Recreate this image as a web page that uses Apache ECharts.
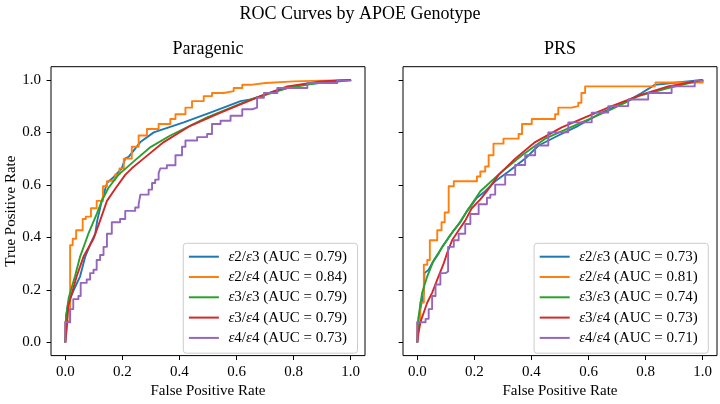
<!DOCTYPE html>
<html><head><meta charset="utf-8">
<script src="https://cdn.jsdelivr.net/npm/echarts@6/dist/echarts.min.js"></script>
<style>html,body{margin:0;padding:0;background:#fff}#c{width:720px;height:404px}</style>
</head><body><div id="c"></div>
<script>
// ---- data ----
const genotypes = ['ε2/ε3', 'ε2/ε4', 'ε3/ε3', 'ε3/ε4', 'ε4/ε4'];
const aucParagenic = [0.79, 0.84, 0.79, 0.79, 0.73];
const aucPRS = [0.73, 0.81, 0.74, 0.73, 0.71];
const panelTitles = ['Paragenic', 'PRS'];
const mainTitle = 'ROC Curves by APOE Genotype';
const xLabel = 'False Positive Rate';
const yLabel = 'True Positive Rate';
const tickValues = [0, 0.2, 0.4, 0.6, 0.8, 1.0];
const tickLabels = ['0.0', '0.2', '0.4', '0.6', '0.8', '1.0'];

// Paragenic panel curves [FPR, TPR]
const paragenicE2E3 = [[0,0],[0.003,0.1],[0.01,0.15],[0.03,0.2],[0.052,0.252],[0.07,0.327],[0.09,0.38],[0.105,0.414],[0.112,0.464],[0.128,0.539],[0.146,0.607],[0.17,0.63],[0.198,0.663],[0.21,0.7],[0.222,0.707],[0.263,0.763],[0.31,0.8],[0.415,0.838],[0.508,0.875],[0.614,0.919],[0.65,0.925],[0.731,0.956],[0.824,0.981],[0.988,0.997],[1,1]];
const paragenicE2E4 = [[0,0],[0,0.08],[0.017,0.37],[0.026,0.395],[0.038,0.427],[0.061,0.47],[0.072,0.479],[0.09,0.511],[0.11,0.539],[0.132,0.595],[0.146,0.614],[0.155,0.62],[0.175,0.64],[0.19,0.663],[0.205,0.7],[0.233,0.745],[0.257,0.788],[0.286,0.813],[0.327,0.832],[0.368,0.851],[0.386,0.869],[0.421,0.894],[0.444,0.919],[0.485,0.938],[0.514,0.95],[0.555,0.957],[0.59,0.969],[0.62,0.981],[0.649,0.988],[0.702,0.994],[0.8,1],[1,1]];
const paragenicE3E3 = [[0,0],[0.003,0.1],[0.012,0.17],[0.034,0.252],[0.052,0.327],[0.081,0.414],[0.11,0.489],[0.128,0.539],[0.151,0.588],[0.186,0.638],[0.251,0.7],[0.3,0.745],[0.368,0.788],[0.497,0.857],[0.649,0.925],[0.778,0.969],[0.918,0.994],[1,1]];
const paragenicE3E4 = [[0,0],[0.005,0.05],[0.011,0.14],[0.04,0.252],[0.064,0.327],[0.099,0.395],[0.122,0.464],[0.146,0.539],[0.175,0.585],[0.21,0.638],[0.233,0.663],[0.274,0.7],[0.345,0.763],[0.438,0.825],[0.544,0.875],[0.684,0.938],[0.778,0.975],[0.895,0.994],[1,1]];
const paragenicE4E4 = [[0,0],[0,0.077],[0.017,0.127],[0.028,0.165],[0.046,0.177],[0.054,0.227],[0.075,0.24],[0.087,0.264],[0.099,0.277],[0.11,0.314],[0.122,0.333],[0.134,0.364],[0.146,0.414],[0.163,0.458],[0.192,0.47],[0.21,0.501],[0.245,0.514],[0.257,0.526],[0.263,0.563],[0.292,0.582],[0.304,0.607],[0.315,0.62],[0.327,0.645],[0.333,0.663],[0.356,0.675],[0.386,0.713],[0.409,0.745],[0.421,0.769],[0.462,0.782],[0.497,0.794],[0.514,0.832],[0.544,0.844],[0.579,0.863],[0.62,0.888],[0.655,0.894],[0.672,0.932],[0.696,0.95],[0.743,0.969],[0.848,0.988],[0.953,0.997],[1,1]];

// PRS panel curves [FPR, TPR]
const prsE2E3 = [[0,0],[0.005,0.1],[0.015,0.15],[0.023,0.189],[0.025,0.264],[0.04,0.277],[0.052,0.302],[0.075,0.339],[0.087,0.364],[0.104,0.389],[0.128,0.427],[0.151,0.458],[0.174,0.501],[0.192,0.526],[0.209,0.551],[0.238,0.576],[0.273,0.614],[0.32,0.651],[0.378,0.7],[0.425,0.75],[0.494,0.788],[0.564,0.825],[0.646,0.875],[0.727,0.913],[0.786,0.95],[0.832,0.981],[0.867,0.985],[1,1]];
const prsE2E4 = [[0,0],[0,0.077],[0.011,0.152],[0.023,0.296],[0.035,0.314],[0.044,0.389],[0.07,0.427],[0.085,0.458],[0.096,0.495],[0.11,0.595],[0.128,0.614],[0.197,0.614],[0.209,0.632],[0.221,0.651],[0.238,0.67],[0.25,0.713],[0.267,0.757],[0.302,0.776],[0.355,0.794],[0.367,0.832],[0.401,0.851],[0.483,0.869],[0.494,0.894],[0.541,0.9],[0.564,0.913],[0.575,0.95],[0.588,0.975],[0.832,0.975],[0.835,0.99],[0.99,0.99],[1,1]];
const prsE3E3 = [[0,0],[0.003,0.08],[0.01,0.14],[0.017,0.189],[0.035,0.252],[0.058,0.314],[0.081,0.352],[0.11,0.401],[0.145,0.451],[0.175,0.501],[0.221,0.576],[0.297,0.651],[0.367,0.713],[0.448,0.776],[0.576,0.838],[0.681,0.888],[0.774,0.938],[0.879,0.969],[1,1]];
const prsE3E4 = [[0,0],[0.005,0.04],[0.011,0.077],[0.035,0.152],[0.052,0.189],[0.07,0.239],[0.093,0.302],[0.104,0.339],[0.122,0.389],[0.145,0.427],[0.168,0.464],[0.19,0.51],[0.221,0.545],[0.244,0.576],[0.285,0.638],[0.343,0.7],[0.413,0.763],[0.506,0.819],[0.588,0.857],[0.681,0.9],[0.786,0.944],[0.879,0.975],[1,1]];
const prsE4E4 = [[0,0],[0,0.077],[0.029,0.09],[0.04,0.127],[0.052,0.177],[0.064,0.221],[0.081,0.264],[0.099,0.27],[0.108,0.364],[0.128,0.389],[0.145,0.414],[0.168,0.451],[0.186,0.489],[0.215,0.526],[0.244,0.551],[0.256,0.563],[0.273,0.601],[0.308,0.638],[0.343,0.676],[0.378,0.713],[0.413,0.75],[0.459,0.8],[0.529,0.838],[0.611,0.875],[0.669,0.9],[0.739,0.925],[0.809,0.95],[0.891,0.975],[0.972,0.997],[1,1]];

// ---- styling ----
const colors = ['#1f77b4', '#ff7f0e', '#2ca02c', '#d62728', '#9467bd'];
const stepped = [false, true, false, false, true];
const FONT = 'Liberation Serif, Times New Roman, serif';

const panels = [
  { curves: [paragenicE2E3, paragenicE2E4, paragenicE3E3, paragenicE3E4, paragenicE4E4], auc: aucParagenic },
  { curves: [prsE2E3, prsE2E4, prsE3E3, prsE3E4, prsE4E4], auc: aucPRS }
];
const grids = [
  { left: 51, top: 66.7, width: 314, height: 294 },
  { left: 403, top: 66.7, width: 314, height: 294 }
];
const legendRight = [362.5, 11.7];

const series = [];
const legends = [];
panels.forEach((p, pi) => {
  const names = genotypes.map((g, i) => g + ' (AUC = ' + p.auc[i].toFixed(2) + ')');
  names.forEach((n, i) => {
    series.push({
      type: 'line', name: n, xAxisIndex: pi, yAxisIndex: pi,
      data: p.curves[i], symbol: 'none', step: stepped[i] ? 'end' : false,
      lineStyle: { color: colors[i], width: 1.9, join: 'round' },
      itemStyle: { color: colors[i] }, color: colors[i],
      z: 2 + i, silent: true
    });
  });
  legends.push({
    orient: 'vertical', right: legendRight[pi], top: 243.3, data: names,
    icon: 'rect', itemWidth: 30, itemHeight: 2, itemGap: 5.3,
    padding: [5.9, 10.5, 7.8, 5.6],
    backgroundColor: 'rgba(255,255,255,0.8)', borderColor: '#cccccc', borderWidth: 1, borderRadius: 3,
    selectedMode: false,
    textStyle: {
      fontFamily: FONT, fontSize: 15, color: '#000', lineHeight: 15, padding: [0, 0, 0, 4.5],
      rich: { e: { fontFamily: FONT, fontStyle: 'italic', fontSize: 15, lineHeight: 15, color: '#000' } }
    },
    formatter: n => n.replace(/ε/g, '{e|ε}')
  });
});

const labelFmt = v => {
  const k = tickValues.findIndex(t => Math.abs(t - v) < 1e-9);
  return k >= 0 ? tickLabels[k] : '';
};

const xAxes = grids.map((g, i) => ({
  gridIndex: i, type: 'value', min: -0.05, max: 1.05, position: 'bottom',
  axisLine: { show: false, onZero: false },
  axisTick: { show: true, customValues: tickValues, length: 4.4, lineStyle: { color: '#000', width: 1 } },
  axisLabel: { customValues: tickValues, formatter: labelFmt, margin: 8.5, fontFamily: FONT, fontSize: 15, color: '#000' },
  splitLine: { show: false },
  name: xLabel, nameLocation: 'middle', nameGap: 25,
  nameTextStyle: { fontFamily: FONT, fontSize: 15, color: '#000' }
}));
const yAxes = grids.map((g, i) => ({
  gridIndex: i, type: 'value', min: -0.05, max: 1.05, position: 'left',
  axisLine: { show: false, onZero: false },
  axisTick: { show: true, customValues: tickValues, length: 4.4, lineStyle: { color: '#000', width: 1 } },
  axisLabel: { show: i === 0, customValues: tickValues, formatter: labelFmt, margin: 10, fontFamily: FONT, fontSize: 15, color: '#000' },
  splitLine: { show: false },
  name: i === 0 ? yLabel : '', nameLocation: 'middle', nameGap: 31,
  nameTextStyle: { fontFamily: FONT, fontSize: 15, color: '#000' }
}));

const chart = echarts.init(document.getElementById('c'), null, { renderer: 'canvas' });
chart.setOption({
  animation: false,
  backgroundColor: '#ffffff',
  title: [
    { text: mainTitle, left: 'center', top: 5.5, padding: 0,
      textStyle: { fontFamily: FONT, fontSize: 18, fontWeight: 'normal', color: '#000' } },
    { text: panelTitles[0], left: 51 + 157, top: 40.5, textAlign: 'center', padding: 0,
      textStyle: { fontFamily: FONT, fontSize: 18, fontWeight: 'normal', color: '#000' } },
    { text: panelTitles[1], left: 403 + 157, top: 40.5, textAlign: 'center', padding: 0,
      textStyle: { fontFamily: FONT, fontSize: 18, fontWeight: 'normal', color: '#000' } }
  ],
  grid: grids.map(g => Object.assign({ show: true, borderColor: '#000', borderWidth: 1, backgroundColor: 'rgba(0,0,0,0)', containLabel: false }, g)),
  xAxis: xAxes,
  yAxis: yAxes,
  legend: legends,
  series: series
});
</script>
</body></html>
